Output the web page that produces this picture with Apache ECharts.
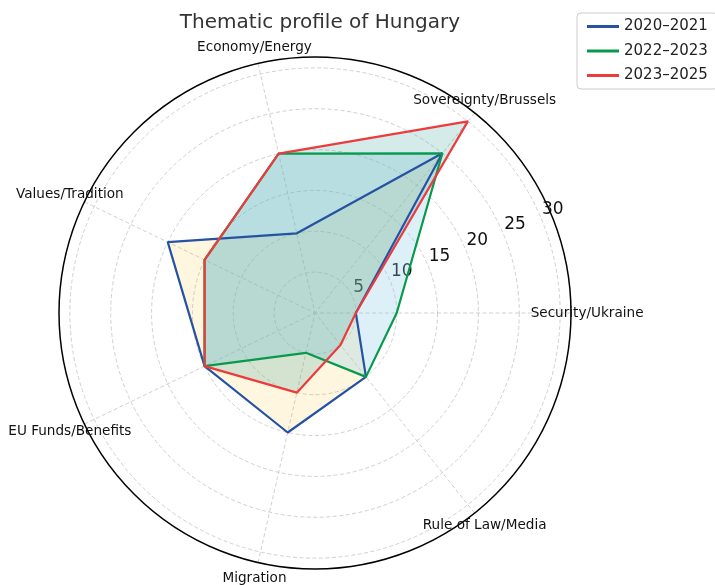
<!DOCTYPE html>
<html>
<head>
<meta charset="utf-8">
<title>Thematic profile of Hungary</title>
<script src="https://cdn.jsdelivr.net/npm/echarts@6/dist/echarts.min.js"></script>
<style>
    html, body { margin: 0; padding: 0; background: #fff; }
    #radarChart { width: 715px; height: 585px; }
</style>
</head>
<body>
<div id="radarChart"></div>
<script>
/*数据*/
var categories = ['Security/Ukraine', 'Sovereignty/Brussels', 'Economy/Energy', 'Values/Tradition',
    'EU Funds/Benefits', 'Migration', 'Rule of Law/Media'];
var period2020 = [5, 25, 10, 20, 15, 15, 10];
var period2022 = [10, 25, 20, 15, 15, 5, 10];
var period2023 = [5, 30, 20, 15, 15, 10, 5];
var seriesNames = ['2020–2021', '2022–2023', '2023–2025'];
var radiusTicks = [5, 10, 15, 20, 25, 30];

var R_MAX = 31.33;      // 外圈
var LABEL_R = 33.3;     // 类别标签半径
var TICK_ANGLE = 22.5;  // 刻度标签角度
var FONT = 'DejaVu Sans';
var STEP = 360 / categories.length;

/*闭合多边形, 角度按类别序号*/
function closedData(values) {
    var list = [];
    for (var i = 0; i < categories.length; i++) {
        list.push([values[i], i * STEP]);
    }
    list.push([values[0], 0]);
    return list;
}

function lineSeries(name, values, lineColor, fillColor) {
    return {
        name: name,
        type: 'line',
        coordinateSystem: 'polar',
        data: closedData(values),
        showSymbol: false,
        symbol: 'none',
        clip: false,
        lineStyle: { color: lineColor, width: 2.2 },
        itemStyle: { color: lineColor },
        areaStyle: { color: fillColor, opacity: 1 },
        emphasis: { disabled: true }
    };
}

function load() {
    var myChart = echarts.init(document.getElementById('radarChart'));

    var labelData = [];
    for (var i = 0; i < categories.length; i++) {
        labelData.push([LABEL_R, i * STEP]);
    }
    var tickData = [];
    for (var j = 0; j < radiusTicks.length; j++) {
        tickData.push([radiusTicks[j], TICK_ANGLE]);
    }

    var option = {
        animation: false,
        backgroundColor: '#fff',
        title: {
            text: 'Thematic profile of Hungary',
            left: 315, top: 8,
            textAlign: 'center',
            textStyle: { fontFamily: FONT, fontSize: 20, fontWeight: 'normal', color: '#333' }
        },
        legend: {
            data: seriesNames,
            orient: 'vertical',
            left: 577, top: 13,
            padding: [6, 10, 6, 10],
            itemGap: 9.5,
            itemWidth: 32, itemHeight: 3,
            icon: 'rect',
            borderColor: '#cccccc', borderWidth: 1, borderRadius: 4,
            textStyle: { fontFamily: FONT, fontSize: 15, color: '#222' }
        },
        polar: { center: [315, 313], radius: 256 },
        angleAxis: {
            type: 'value',
            min: 0, max: 360, interval: STEP,
            startAngle: 0,
            clockwise: false,
            axisLine: { show: true, lineStyle: { color: '#000', width: 1.5 } },
            axisTick: { show: false },
            axisLabel: { show: false },
            splitLine: { show: true, lineStyle: { color: '#c4c4c4', width: 0.8, type: [4, 2.5] } }
        },
        radiusAxis: {
            type: 'value',
            min: 0, max: R_MAX, interval: 5,
            axisLine: { show: false },
            axisTick: { show: false },
            axisLabel: { show: false },
            splitLine: {
                show: true,
                lineStyle: {
                    color: ['#c4c4c4', '#c4c4c4', '#c4c4c4', '#c4c4c4', '#c4c4c4', '#c4c4c4', '#c4c4c4', 'rgba(0,0,0,0)'],
                    width: 0.8, type: [4, 2.5]
                }
            }
        },
        series: [
            lineSeries(seriesNames[0], period2020, '#2552a2', 'rgba(255,183,3,0.12)'),
            lineSeries(seriesNames[1], period2022, '#079a4c', 'rgba(142,202,230,0.3)'),
            lineSeries(seriesNames[2], period2023, '#ec3b3d', 'rgba(42,157,143,0.2)'),
            {
                /*类别标签*/
                name: 'categoryLabels',
                type: 'scatter',
                coordinateSystem: 'polar',
                data: labelData,
                symbolSize: 1,
                clip: false,
                silent: true,
                itemStyle: { color: 'rgba(0,0,0,0)', opacity: 1 },
                label: {
                    show: true,
                    position: 'inside',
                    formatter: function (p) { return categories[p.dataIndex]; },
                    fontFamily: FONT, fontSize: 13.6, color: '#111',
                    textBorderWidth: 0
                }
            },
            {
                /*半径刻度*/
                name: 'radiusLabels',
                type: 'scatter',
                coordinateSystem: 'polar',
                data: tickData,
                symbolSize: 1,
                clip: false,
                silent: true,
                itemStyle: { color: 'rgba(0,0,0,0)', opacity: 1 },
                label: {
                    show: true,
                    position: [1, -1],
                    align: 'left',
                    verticalAlign: 'bottom',
                    formatter: function (p) { return String(radiusTicks[p.dataIndex]); },
                    fontFamily: FONT, fontSize: 17, color: '#111',
                    textBorderWidth: 0
                }
            }
        ]
    };
    myChart.setOption(option);
}

load();
</script>
</body>
</html>
